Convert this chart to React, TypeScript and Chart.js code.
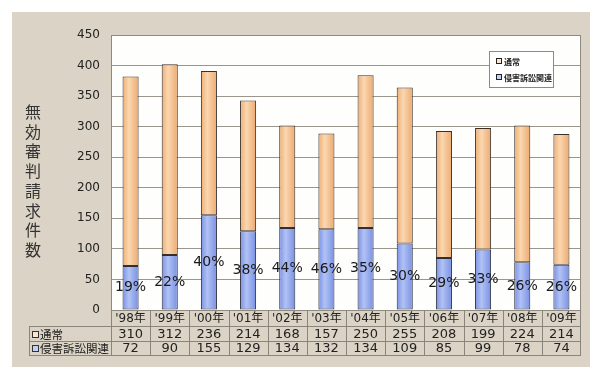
import React, { useEffect, useRef } from "react";
import { Chart, registerables } from "chart.js";

Chart.register(...registerables);

const categories = ["'98年", "'99年", "'00年", "'01年", "'02年", "'03年", "'04年", "'05年", "'06年", "'07年", "'08年", "'09年"];
const normalCounts = [310, 312, 236, 214, 168, 157, 250, 255, 208, 199, 224, 214];
const litigationCounts = [72, 90, 155, 129, 134, 132, 134, 109, 85, 99, 78, 74];
const seriesNames = ["通常", "侵害訴訟関連"];
const yTitle = "無効審判請求件数";
const yMax = 450;
const yStep = 50;

const NUM = "'DejaVu Sans', 'Noto Sans CJK JP', sans-serif";
const JP = "'Noto Sans CJK JP', sans-serif";

const percents = litigationCounts.map((v, i) => Math.round((v / (v + normalCounts[i])) * 100) + "%");

function barGradient(ctx: any, stops: [number, string][], solid: string) {
  const chart = ctx.chart;
  const xs = chart.scales && chart.scales.x;
  if (!xs || ctx.dataIndex == null || !chart.chartArea) return solid;
  const cx = xs.getPixelForValue(ctx.dataIndex);
  const g = chart.ctx.createLinearGradient(cx - 8, 0, cx + 8, 0);
  stops.forEach(([p, c]) => g.addColorStop(p, c));
  return g;
}

const orangeStops: [number, string][] = [[0, "#eeae74"], [0.4, "#fbd7b0"], [1, "#ecaa70"]];
const blueStops: [number, string][] = [[0, "#7a91e4"], [0.4, "#b2c2f5"], [1, "#7890e2"]];
const orangeSolid = "#f8cda2";
const blueSolid = "#a3b5f1";

const panelPlugin = {
  id: "panel",
  beforeDraw(chart: any) {
    const c = chart.ctx;
    const a = chart.chartArea;
    c.save();
    c.fillStyle = "#ffffff";
    c.fillRect(0, 0, chart.width, chart.height);
    c.fillStyle = "#dbd4c6";
    c.fillRect(12, 12, 578, 355);
    c.fillStyle = "#fefefd";
    c.fillRect(a.left, a.top, a.right - a.left, a.bottom - a.top);
    c.fillStyle = "#333";
    c.font = "16px " + JP;
    c.textAlign = "center";
    c.textBaseline = "middle";
    Array.from(yTitle).forEach((ch, i) => c.fillText(ch, 33, 112 + i * 19.7));
    c.restore();
  },
  afterDraw(chart: any) {
    const c = chart.ctx;
    const a = chart.chartArea;
    const xs = chart.scales.x;
    const n = categories.length;
    c.save();
    c.strokeStyle = "#8f8a80";
    c.lineWidth = 1;
    c.strokeRect(Math.round(a.left) + 0.5, Math.round(a.top) + 0.5, Math.round(a.right - a.left) - 1, Math.round(a.bottom - a.top));
    const r0 = Math.round(a.bottom);
    const r1 = r0 + 16;
    const r2 = r1 + 15;
    const r3 = r2 + 14;
    const tableLeft = 29;
    c.strokeStyle = "#8a857a";
    c.beginPath();
    [r1, r2, r3].forEach((y) => {
      c.moveTo(tableLeft, y + 0.5);
      c.lineTo(Math.round(a.right), y + 0.5);
    });
    c.moveTo(tableLeft + 0.5, r1);
    c.lineTo(tableLeft + 0.5, r3);
    for (let i = 0; i <= n; i++) {
      const x = Math.round(xs.getPixelForValue(i - 0.5));
      const xx = i === n ? x - 0.5 : x + 0.5;
      c.moveTo(xx, r0);
      c.lineTo(xx, r3);
    }
    c.stroke();
    c.fillStyle = "#222";
    c.textAlign = "center";
    c.textBaseline = "middle";
    for (let i = 0; i < n; i++) {
      const x = xs.getPixelForValue(i);
      c.font = "12px " + NUM;
      c.fillText(categories[i], x, (r0 + r1) / 2 + 1);
      c.font = "13px " + NUM;
      c.fillText(String(normalCounts[i]), x, (r1 + r2) / 2 + 1);
      c.fillText(String(litigationCounts[i]), x, (r2 + r3) / 2 + 1);
    }
    const rowFills = ["#fde5ca", "#c3d0f7"];
    const rowYs = [(r1 + r2) / 2, (r2 + r3) / 2];
    c.textAlign = "left";
    c.font = "11.5px " + JP;
    seriesNames.forEach((name, i) => {
      const y = rowYs[i];
      c.fillStyle = rowFills[i];
      c.fillRect(32.5, Math.round(y - 3) + 0.5, 6, 6);
      c.strokeStyle = "#333";
      c.strokeRect(32.5, Math.round(y - 3) + 0.5, 6, 6);
      c.fillStyle = "#222";
      c.fillText(name, 40, y + 1);
    });
    c.fillStyle = "#ffffff";
    c.fillRect(489, 51, 64, 36);
    c.strokeStyle = "#8f8a80";
    c.strokeRect(489.5, 51.5, 64, 36);
    c.font = "bold 8px " + JP;
    const legYs = [61, 77];
    seriesNames.forEach((name, i) => {
      const y = legYs[i];
      c.fillStyle = rowFills[i];
      c.fillRect(496.5, y - 2.5, 5, 5);
      c.strokeStyle = "#222";
      c.strokeRect(496.5, y - 2.5, 5, 5);
      c.fillStyle = "#222";
      c.fillText(name, 504, y + 1);
    });
    c.restore();
  },
  afterDatasetsDraw(chart: any) {
    const c = chart.ctx;
    const meta = chart.getDatasetMeta(0);
    c.save();
    c.fillStyle = "#1a1a1a";
    c.font = "14px " + NUM;
    c.textAlign = "center";
    c.textBaseline = "middle";
    meta.data.forEach((el: any, i: number) => {
      c.fillText(percents[i], el.x, (el.y + el.base) / 2);
    });
    c.restore();
  },
};

export default function App() {
  const ref = useRef<HTMLCanvasElement>(null);
  useEffect(() => {
    document.body.style.margin = "0";
    const chart = new Chart(ref.current!, {
      type: "bar",
      data: {
        labels: categories,
        datasets: [
          {
            label: seriesNames[1],
            data: litigationCounts,
            backgroundColor: (ctx: any) => barGradient(ctx, blueStops, blueSolid),
            borderColor: "#2c2c3a",
            borderWidth: 1,
            borderSkipped: false,
            barPercentage: 0.41,
            categoryPercentage: 1,
          },
          {
            label: seriesNames[0],
            data: normalCounts,
            backgroundColor: (ctx: any) => barGradient(ctx, orangeStops, orangeSolid),
            borderColor: "#3a302a",
            borderWidth: 1,
            borderSkipped: false,
            barPercentage: 0.41,
            categoryPercentage: 1,
          },
        ],
      },
      options: {
        responsive: false,
        animation: false,
        devicePixelRatio: 1,
        layout: { padding: { left: 0, right: 20, top: 35, bottom: 67 } },
        plugins: { legend: { display: false }, tooltip: { enabled: false } },
        scales: {
          x: { stacked: true, display: false, offset: true },
          y: {
            stacked: true,
            min: 0,
            max: yMax,
            border: { display: false },
            grid: { color: "#9a968e", lineWidth: 1, drawTicks: false },
            ticks: {
              stepSize: yStep,
              padding: 11,
              color: "#222",
              font: { family: NUM, size: 12 },
            },
            afterFit: (scale: any) => {
              scale.width = 111;
            },
          },
        },
      },
      plugins: [panelPlugin],
    });
    return () => chart.destroy();
  }, []);
  return (
    <canvas
      ref={ref}
      width={601}
      height={377}
      style={{ display: "block", width: 601, height: 377 }}
    />
  );
}
